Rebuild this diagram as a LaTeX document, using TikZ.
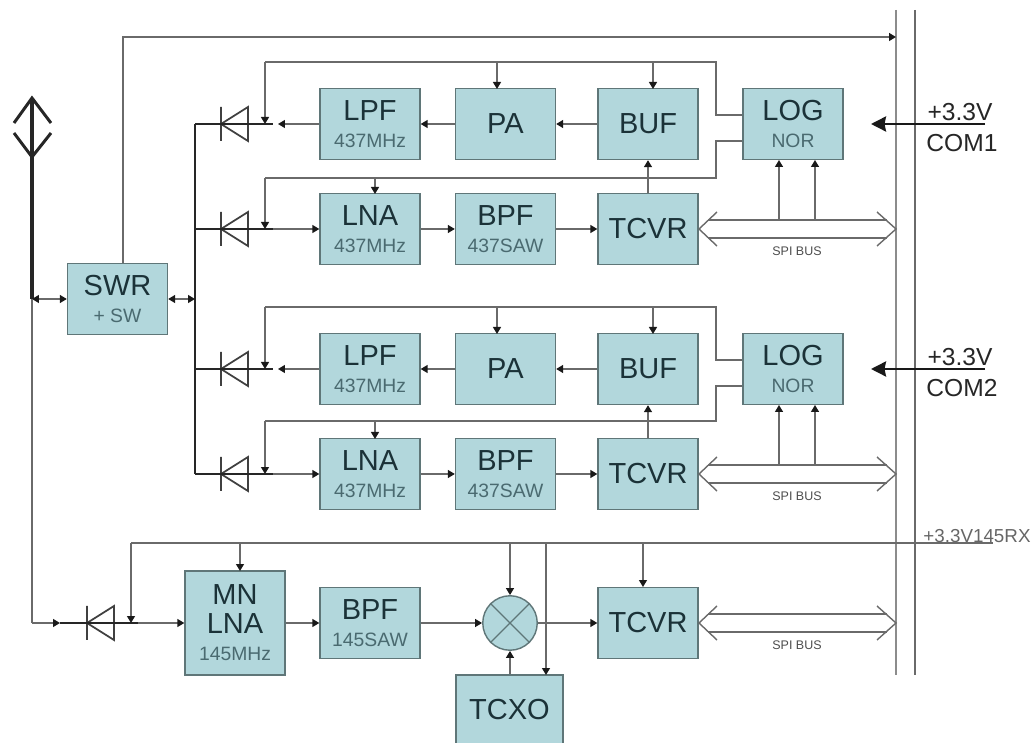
\documentclass[tikz,border=0pt]{standalone}
\usepackage{fontspec}
\setmainfont{Liberation Sans}
\usetikzlibrary{arrows.meta}
\definecolor{boxfill}{HTML}{B2D7DC}
\definecolor{boxline}{HTML}{5F7678}
\definecolor{boxtext}{HTML}{1B3238}
\definecolor{subtext}{HTML}{4A6A70}
\definecolor{wire}{HTML}{6A6A6A}
\newcommand{\sublbl}[1]{{\fontsize{11}{12}\selectfont\color{subtext}#1}}

\begin{document}
\begin{tikzpicture}[
    x=0.02cm, y=-0.02cm,
    n/.style={rectangle, draw=boxline, line width=0.8pt, fill=boxfill, text=boxtext, align=center, inner sep=0pt, minimum width=2cm, minimum height=1.42cm, font=\fontsize{16.5}{17.5}\selectfont},
    a/.style={-{Stealth[length=1.4mm, width=1.6mm, inset=0pt, black!90]}, line width=0.8pt, wire},
    aa/.style={{Stealth[length=1.4mm, width=1.6mm, inset=0pt, black!90]}-{Stealth[length=1.4mm, width=1.6mm, inset=0pt, black!90]}, line width=0.8pt, wire},
    l/.style={line width=0.8pt, wire},
    tk/.style={line width=1.7pt, black!85},
    d/.style={line width=1pt, black!75},
    bus/.style={line width=0.8pt, wire},
    sm/.style={font=\fontsize{7.1}{8}\selectfont, text=black!70},
    t/.style={font=\fontsize{14}{15}\selectfont, text=black!85},
]
\useasboundingbox (0,0) rectangle (1036,743);

% antenna
\coordinate (anttop) at (32,98);
\coordinate (antbot) at (32,157);
\coordinate (antsw) at (32,299);
\coordinate (antrx) at (32,622);
\draw[tk] (14,123) -- (anttop) -- (51,123);
\draw[tk] (14,133) -- (antbot) -- (51,133);
\draw[line width=2.2pt, black!85] (anttop) -- (antsw);

% first pair
\node[n] (swr) at (117.5,299) {SWR\\[-2pt]\sublbl{+ SW}};
\node[n] (lpfa) at (370,124) {LPF\\[-2pt]\sublbl{437MHz}};
\node[n] (paa) at (505.5,124) {PA};
\node[n] (bufa) at (648,124) {BUF};
\node[n] (loga) at (793,124) {LOG\\[-2pt]\sublbl{NOR}};
\node[n] (lnaa) at (370,229) {LNA\\[-2pt]\sublbl{437MHz}};
\node[n] (bpfa) at (505.5,229) {BPF\\[-2pt]\sublbl{437SAW}};
\node[n] (tcvra) at (648,229) {TCVR};

% second pair
\node[n] (lpfb) at (370,369) {LPF\\[-2pt]\sublbl{437MHz}};
\node[n] (pab) at (505.5,369) {PA};
\node[n] (bufb) at (648,369) {BUF};
\node[n] (logb) at (793,369) {LOG\\[-2pt]\sublbl{NOR}};
\node[n] (lnab) at (370,474) {LNA\\[-2pt]\sublbl{437MHz}};
\node[n] (bpfb) at (505.5,474) {BPF\\[-2pt]\sublbl{437SAW}};
\node[n] (tcvrb) at (648,474) {TCVR};

% 145 receiver
\node[n, minimum height=2.08cm] (mnlna) at (235,623) {MN\\[-1pt]LNA\\[-2pt]\sublbl{145MHz}};
\node[n] (bpfc) at (370,623) {BPF\\[-2pt]\sublbl{145SAW}};
\node[n, circle, minimum width=1.09cm, minimum height=1.09cm] (mix) at (510,623) {};
\draw[line width=0.8pt, boxline] (mix.45) -- (mix.225) (mix.135) -- (mix.315);
\node[n] (tcvrc) at (648,623) {TCVR};
\node[n, minimum width=2.14cm, minimum height=1.4cm] (tcxo) at (509.5,710) {TCXO};

% system bus
\coordinate (bla) at (896,10);
\coordinate (blb) at (896,675);
\coordinate (bra) at (915,10);
\coordinate (brb) at (915,675);
\draw[line width=1.2pt, black!45] (bla) -- (blb);
\draw[line width=0.8pt, wire] (bra) -- (brb);

% swr outputs
\coordinate (top) at (123,37);
\draw[a] (swr.north -| top) -- (top) -- (top -| bla);
\coordinate (busa) at (195,124);
\coordinate (busm) at (195,299);
\coordinate (busd) at (195,474);
\draw[tk] (busa) -- (busd);
\draw[aa] (swr.east) -- (busm);
\draw[aa] (antsw) -- (swr.west);
\draw[l] (antsw) -- (antrx);

% diodes
\coordinate (da) at (221,124);
\coordinate (db) at (221,229);
\coordinate (dc) at (221,369);
\coordinate (dd) at (221,474);
\coordinate (de) at (87,623);
\draw[d] (da) -- ++(27,-17) -- ++(0,34) -- cycle (da) ++(0,-17) -- ++(0,34);
\draw[d] (db) -- ++(27,-17) -- ++(0,34) -- cycle (db) ++(0,-17) -- ++(0,34);
\draw[d] (dc) -- ++(27,-17) -- ++(0,34) -- cycle (dc) ++(0,-17) -- ++(0,34);
\draw[d] (dd) -- ++(27,-17) -- ++(0,34) -- cycle (dd) ++(0,-17) -- ++(0,34);
\draw[d] (de) -- ++(27,-17) -- ++(0,34) -- cycle (de) ++(0,-17) -- ++(0,34);
\coordinate (ea) at (273,124);
\coordinate (eb) at (273,229);
\coordinate (ec) at (273,369);
\coordinate (ed) at (273,474);
\coordinate (ee) at (138,623);
\coordinate (ef) at (60,623);
\draw[line width=1.2pt, black!85] (busa) -- (ea);
\draw[line width=1.2pt, black!85] (busa |- db) -- (eb);
\draw[line width=1.2pt, black!85] (busa |- dc) -- (ec);
\draw[line width=1.2pt, black!85] (busd) -- (ed);
\draw[line width=1.2pt, black!85] (ef) -- (ee);
\draw[a] (lpfa.west) -- (278,124);
\draw[a] (eb) -- (lnaa.west);
\draw[a] (lpfb.west) -- (278,369);
\draw[a] (ed) -- (lnab.west);
\draw[a] (antrx |- ef) -- (ef);
\draw[l] (antrx) -- (antrx |- ef);
\draw[a] (ee) -- (mnlna.west |- ee);

% signal path
\draw[a] (bufa) -- (paa);
\draw[a] (paa) -- (lpfa);
\draw[a] (lnaa) -- (bpfa);
\draw[a] (bpfa) -- (tcvra);
\draw[a] (tcvra) -- (bufa);
\draw[a] (bufb) -- (pab);
\draw[a] (pab) -- (lpfb);
\draw[a] (lnab) -- (bpfb);
\draw[a] (bpfb) -- (tcvrb);
\draw[a] (tcvrb) -- (bufb);
\draw[a] (mnlna.east |- bpfc) -- (bpfc);
\draw[a] (bpfc) -- (mix);
\draw[a] (mix) -- (tcvrc);
\draw[a] (tcxo.north -| mix) -- (mix);

% control lines
\coordinate (cta) at (716,62);
\coordinate (ctb) at (716,178);
\coordinate (ctc) at (716,307);
\coordinate (ctd) at (716,421);
\draw[l] (loga.west |- 0,115) -| (cta) -- (cta -| 265,0);
\draw[a] (cta -| 265,0) -- (265,124);
\draw[l] (loga.west |- 0,141) -| (ctb) -- (ctb -| 265,0);
\draw[a] (ctb -| 265,0) -- (265,229);
\draw[l] (logb.west |- 0,360) -| (ctc) -- (ctc -| 265,0);
\draw[a] (ctc -| 265,0) -- (265,369);
\draw[l] (logb.west |- 0,386) -| (ctd) -- (ctd -| 265,0);
\draw[a] (ctd -| 265,0) -- (265,474);
\draw[a] (497,62) -- (497,89);
\draw[a] (653,62) -- (653,89);
\draw[a] (375,178) -- (375,194);
\draw[a] (497,307) -- (497,334);
\draw[a] (653,307) -- (653,334);
\draw[a] (375,421) -- (375,439);

% spi buses
\draw[bus] (717,212) -- (699,229) -- (717,246) (877,212) -- (896,229) -- (877,246);
\draw[bus] (708,220) -- (887,220) (708,238) -- (887,238);
\draw[a] (779,220) -- (779,160);
\draw[a] (815,220) -- (815,160);
\node[sm] (spia) at (797,251) {SPI BUS};
\draw[bus] (717,457) -- (699,474) -- (717,491) (877,457) -- (896,474) -- (877,491);
\draw[bus] (708,465) -- (887,465) (708,483) -- (887,483);
\draw[a] (779,465) -- (779,405);
\draw[a] (815,465) -- (815,405);
\node[sm] (spib) at (797,496) {SPI BUS};
\draw[bus] (717,606) -- (699,623) -- (717,640) (877,606) -- (896,623) -- (877,640);
\draw[bus] (708,614) -- (887,614) (708,632) -- (887,632);
\node[sm] (spic) at (797,645) {SPI BUS};

% 145 supply
\node[font=\fontsize{10.7}{12}\selectfont, text=black!60] (vrx) at (977,536) {+3.3V145RX};
\coordinate (rxa) at (993,543);
\coordinate (rxb) at (131,543);
\draw[l] (rxa) -- (rxb);
\draw[a] (rxb) -- (rxb |- de);
\draw[a] (240,543) -- (240,571);
\draw[a] (mix.north |- rxb) -- (mix.north);
\draw[a] (546,543) -- (546,675);
\draw[a] (643,543) -- (643,587);

% supply inputs
\node[t] (vcoma) at (960,112) {+3.3V};
\node[t] (coma) at (962,143) {COM1};
\coordinate (ina) at (985,124);
\draw[-{Stealth[length=3mm, width=3mm, inset=0.3mm]}, line width=1.5pt, black!90] (ina) -- (871,124);
\node[t] (vcomb) at (960,357) {+3.3V};
\node[t] (comb) at (962,388) {COM2};
\coordinate (inb) at (985,369);
\draw[-{Stealth[length=3mm, width=3mm, inset=0.3mm]}, line width=1.5pt, black!90] (inb) -- (871,369);
\end{tikzpicture}
\end{document}
